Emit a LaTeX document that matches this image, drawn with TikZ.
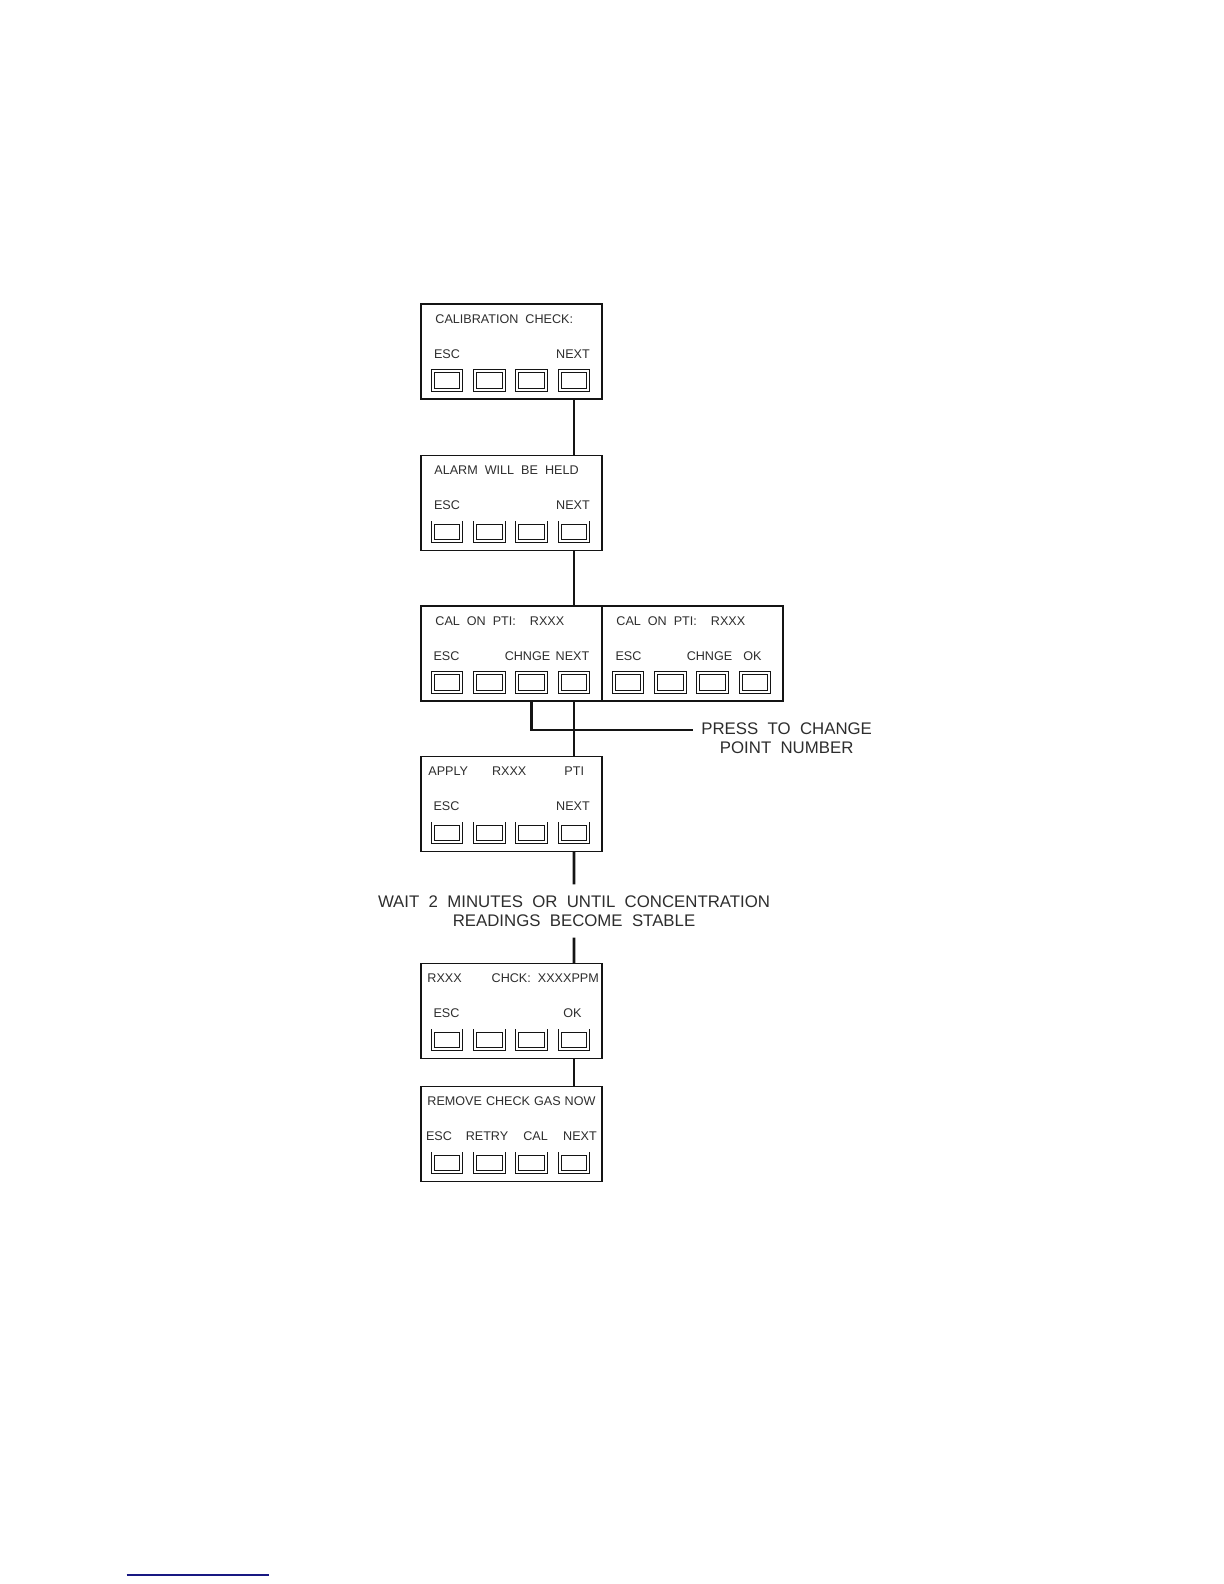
\documentclass[tikz,border=0pt]{standalone}
\usepackage{fontspec}
\setmainfont{Liberation Sans}
\newfontfamily\lcdfont[WordSpace=2.5]{Liberation Sans}
\newfontfamily\notefont[WordSpace=2]{Liberation Sans}
\usetikzlibrary{calc}
\definecolor{cEdge}{RGB}{20,20,20}
\definecolor{cText}{RGB}{45,45,45}
\definecolor{cLinkBar}{RGB}{24,24,130}

\begin{document}
\begin{tikzpicture}[
  x=0.5pt,y=-0.5pt, color=cEdge,
  panel/.style={draw=cEdge, line width=0.65pt, anchor=north west,
                minimum width=90.5pt, minimum height=47.5pt,
                inner sep=0pt, outer sep=0pt},
  key/.style  ={draw=cEdge, line width=0.45pt, double=white, double distance=1.1pt,
                minimum width=14.3pt, minimum height=9.4pt,
                inner sep=0pt, outer sep=0pt},
  lcd/.style  ={text=cText, inner sep=0pt,
                font=\lcdfont\fontsize{6.3}{7.4}\selectfont\frenchspacing},
  note/.style ={text=cText, inner sep=0pt, align=center,
                font=\notefont\fontsize{8.4}{9.3}\selectfont},
  link/.style ={draw=cEdge, line width=1.35pt},
]
\useasboundingbox (0,0) rectangle (1224,1584);

% ----- geometry (reference pixels, y down) -----------------------------
\def\xL{421}\def\xR{602}
\def\yA{304}\def\yB{455.5}\def\yC{606}\def\yD{756.5}\def\yE{963.5}\def\yF{1086.5}
\def\tT{15}\def\tK{50}\def\tB{76.4}

% ----- display panels ---------------------------------------------------
\node[panel] (cal)    at (\xL,\yA) {};
\node[panel] (alarm)  at (\xL,\yB) {};
\node[panel] (pti)    at (\xL,\yC) {};
\node[panel] (ptiok)  at (\xR,\yC) {};
\node[panel] (apply)  at (\xL,\yD) {};
\node[panel] (chck)   at (\xL,\yE) {};
\node[panel] (remove) at (\xL,\yF) {};

% ----- soft keys, four under each display -------------------------------
\foreach \p in {cal,alarm,pti,ptiok,apply,chck,remove}
  \foreach \i/\dx in {1/26,2/68.3,3/110.6,4/152.9}
    \node[key] (\p-k\i) at ($(\p.north west)+(\dx,\tB)$) {};

% ----- display texts ----------------------------------------------------
\node[lcd,anchor=west] (cal-top) at ($(cal.north west)+(14,\tT)$) {CALIBRATION CHECK:};
\node[lcd] (cal-esc)  at ($(cal.north west)+(26,\tK)$)  {ESC};
\node[lcd] (cal-next) at ($(cal.north west)+(152,\tK)$) {NEXT};

\node[lcd,anchor=west] (alarm-top) at ($(alarm.north west)+(13,\tT)$) {ALARM WILL BE HELD};
\node[lcd] (alarm-esc)  at ($(alarm.north west)+(26,\tK)$)  {ESC};
\node[lcd] (alarm-next) at ($(alarm.north west)+(152,\tK)$) {NEXT};

\node[lcd,anchor=west] (pti-top) at ($(pti.north west)+(14,\tT)$) {CAL ON PTI:~~RXXX};
\node[lcd] (pti-esc)   at ($(pti.north west)+(25.5,\tK)$)  {ESC};
\node[lcd] (pti-chnge) at ($(pti.north west)+(106.5,\tK)$) {CHNGE};
\node[lcd] (pti-next)  at ($(pti.north west)+(151.5,\tK)$) {NEXT};

\node[lcd,anchor=west] (ptiok-top) at ($(ptiok.north west)+(14,\tT)$) {CAL ON PTI:~~RXXX};
\node[lcd] (ptiok-esc)   at ($(ptiok.north west)+(26.5,\tK)$)  {ESC};
\node[lcd] (ptiok-chnge) at ($(ptiok.north west)+(107.5,\tK)$) {CHNGE};
\node[lcd] (ptiok-ok)    at ($(ptiok.north west)+(150.5,\tK)$) {OK};

\node[lcd,anchor=west] (apply-top) at ($(apply.north west)+(7,\tT)$)
      {APPLY\hspace{12pt}RXXX\hspace{19pt}PTI};
\node[lcd] (apply-esc)  at ($(apply.north west)+(25.5,\tK)$) {ESC};
\node[lcd] (apply-next) at ($(apply.north west)+(152,\tK)$)  {NEXT};

\node[lcd,anchor=west] (chck-top) at ($(chck.north west)+(6,\tT)$)
      {RXXX\hspace{15pt}CHCK: XXXXPPM};
\node[lcd] (chck-esc) at ($(chck.north west)+(25.5,\tK)$)  {ESC};
\node[lcd] (chck-ok)  at ($(chck.north west)+(151.5,\tK)$) {OK};

\node[lcd,anchor=west] (remove-top) at ($(remove.north west)+(6,\tT)$)
      {REMOVE\hspace{2pt}CHECK\hspace{2pt}GAS\hspace{2pt}NOW};
\node[lcd] (remove-esc)   at ($(remove.north west)+(18,\tK)$)    {ESC};
\node[lcd] (remove-retry) at ($(remove.north west)+(66,\tK)$)    {RETRY};
\node[lcd] (remove-cal)   at ($(remove.north west)+(114.5,\tK)$) {CAL};
\node[lcd] (remove-next)  at ($(remove.north west)+(159,\tK)$)   {NEXT};

% ----- notes -------------------------------------------------------------
\node[note,anchor=west,inner xsep=4pt] (press) at (693,738.5)
      {PRESS TO CHANGE\\POINT NUMBER};
\node[note,inner ysep=5.5pt] (wait) at (574,911)
      {WAIT 2 MINUTES OR UNTIL CONCENTRATION\\READINGS BECOME STABLE};

% ----- connectors --------------------------------------------------------
\draw[link] (cal-k4 |- cal.south)     -- (alarm-k4 |- alarm.north);
\draw[link] (alarm-k4 |- alarm.south) -- (pti-k4 |- pti.north);
\draw[link] (pti-k4 |- pti.south)     -- (apply-k4 |- apply.north);
\draw[link] (pti-k3 |- pti.south)     |- ([yshift=4.25pt]press.west);
\draw[link] (apply-k4 |- apply.south) -- (wait.north);
\draw[link] (wait.south)              -- (chck-k4 |- chck.north);
\draw[link] (chck-k4 |- chck.south)   -- (remove-k4 |- remove.north);

% ----- page link bar ------------------------------------------------------
\draw[cLinkBar,line width=0.85pt] (126.5,1575) -- (269,1575);

\end{tikzpicture}
\end{document}
